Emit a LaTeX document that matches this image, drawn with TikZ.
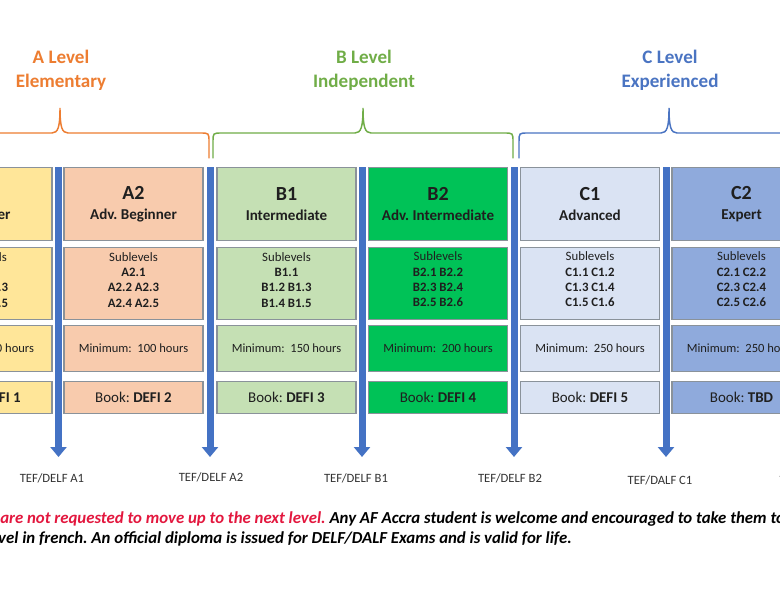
\documentclass[tikz,border=0pt]{standalone}
\usepackage{fontspec}
\setmainfont{Carlito}
\usepackage{xcolor}
\usepackage{tikz}
\usetikzlibrary{arrows.meta}
\frenchspacing
\definecolor{alevel}{HTML}{ED7D31}
\definecolor{blevel}{HTML}{70AD47}
\definecolor{clevel}{HTML}{4A74C2}
\definecolor{barblue}{HTML}{4472C4}
\definecolor{aone}{HTML}{FFE699}
\definecolor{atwo}{HTML}{F8CBAD}
\definecolor{bone}{HTML}{C5E0B4}
\definecolor{btwo}{HTML}{00C257}
\definecolor{cone}{HTML}{DAE3F3}
\definecolor{ctwo}{HTML}{8FAADC}
\definecolor{boxline}{HTML}{8A929A}
\definecolor{notered}{HTML}{E3173E}
\tikzset{cell/.style={draw=boxline,line width=0.9pt,minimum width=104.25pt,inner sep=1pt,
           align=center,anchor=north,text=black!88},
         headcell/.style={cell,minimum height=54.75pt,font=\bfseries\fontsize{11.3}{15}\selectfont},
         subcell/.style={cell,minimum height=54pt},
         subtext/.style={align=center,text=black!88,font=\bfseries\fontsize{9.6}{11.5}\selectfont},
         hourcell/.style={cell,minimum height=34.5pt,font=\fontsize{9.4}{11}\selectfont},
         bookcell/.style={cell,minimum height=24pt,font=\fontsize{11.2}{13}\selectfont},
         leveltitle/.style={align=center,font=\bfseries\fontsize{14.3}{18}\selectfont},
         levelbrace/.style={line width=1.1pt,line cap=round},
         examarrow/.style={draw=barblue,line width=5.25pt,-{Triangle[width=12pt,length=7.5pt]}},
         examlabel/.style={font=\fontsize{9.5}{11}\selectfont,text=black!80},
         notetext/.style={inner sep=0pt,font=\bfseries\itshape\fontsize{12.6}{14}\selectfont}}

\begin{document}
\begin{tikzpicture}[x=0.75pt,y=-0.75pt]
\useasboundingbox (0,0) rectangle (780,588);
\fill[white] (0,0) rectangle (780,588);
\clip (0,0) rectangle (780,588);
% level titles and braces
\foreach \xl/\xt/\xr/\col/\lev/\desc in {-89/60/209/alevel/A/Elementary,213/363/513/blevel/B/Independent,519/669/819/clevel/C/Experienced}{
  \node[leveltitle,text=\col] (title-\lev) at (\xt+1,70) {\lev\ Level\\\desc};
  \draw[levelbrace,draw=\col] (\xl,158) -- (\xl,142) .. controls (\xl,133) .. (\xl+9,133) -- (\xt-8,133)
    .. controls (\xt-2,133) and (\xt,127) .. (\xt,108) .. controls (\xt,127) and (\xt+2,133) .. (\xt+8,133)
    -- (\xr-9,133) .. controls (\xr,133) .. (\xr,142) -- (\xr,158);
}
% exam arrows
\foreach \bx/\lx/\ly/\exam [count=\i] in {58.5/52/478/DELF A1,210/211/477/DELF A2,362/356/478/DELF B1,514/510/478/DELF B2,666/660/480/DALF C1,818/812/480/DALF C2}{
  \coordinate (top-\i) at (\bx,167);
  \coordinate (tip-\i) at (\bx,457);
  \draw[examarrow] (top-\i) -- (tip-\i);
  \node[examlabel] (exam-\i) at (\lx,\ly) {TEF/\exam};
}
% level columns
\foreach \cx/\fillc/\lev/\name/\subs/\hrs/\book in {-17.5/aone/A1/Beginner/{A1.1\\A1.2 A1.3\\A1.4 A1.5}/50/DEFI 1,
    133.5/atwo/A2/Adv. Beginner/{A2.1\\A2.2 A2.3\\A2.4 A2.5}/100/DEFI 2,
    286.5/bone/B1/Intermediate/{B1.1\\B1.2 B1.3\\B1.4 B1.5}/150/DEFI 3,
    438/btwo/B2/Adv. Intermediate/{B2.1 B2.2\\B2.3 B2.4\\B2.5 B2.6}/200/DEFI 4,
    590/cone/C1/Advanced/{C1.1 C1.2\\C1.3 C1.4\\C1.5 C1.6}/250/DEFI 5,
    741.5/ctwo/C2/Expert/{C2.1 C2.2\\C2.3 C2.4\\C2.5 C2.6}/250/TBD}{
  \node[headcell,fill=\fillc] (head-\lev) at (\cx,167) {{\fontsize{15}{15}\selectfont\lev}\\\name};
  \node[subcell,fill=\fillc] (sub-\lev) at (\cx,247) {};
  \node[subtext] (subs-\lev) at ([yshift=3pt]sub-\lev.center) {{\mdseries Sublevels}\\\subs};
  \node[hourcell,fill=\fillc] (hours-\lev) at (\cx,325) {Minimum:\ \ \hrs\ hours};
  \node[bookcell,fill=\fillc] (book-\lev) at (\cx,381) {Book: \textbf{\book}};
}
% note
\node[notetext,anchor=west] (note-1) at (0,519) {\textcolor{notered}{are not requested to move up to the next level.} Any AF Accra student is welcome and encouraged to take them to validate their};
\node[notetext,anchor=east] (note-2) at (572,539) {level in french. An official diploma is issued for DELF/DALF Exams and is valid for life.};
\end{tikzpicture}
\end{document}
